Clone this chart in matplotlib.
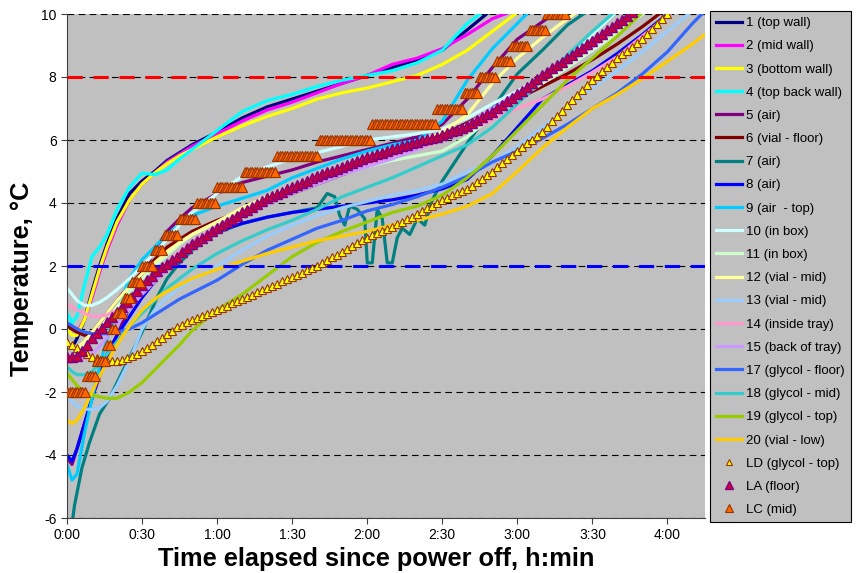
import numpy as np
import matplotlib
matplotlib.use('Agg')
import matplotlib.pyplot as plt
from matplotlib.ticker import FuncFormatter, MultipleLocator

plt.rcParams['font.family'] = ['Liberation Sans', 'DejaVu Sans']
plt.rcParams['axes.unicode_minus'] = False

# minutes since power off (common grid for the logger traces)
t_min = [0, 2, 4, 7, 10, 13, 16, 20, 25, 30, 35, 40, 45, 50, 60, 70, 80, 90, 100, 110,
         120, 130, 140, 150, 160, 170, 180, 190, 200, 210, 220, 230, 240, 250, 255]

s1 = [-0.5, -0.6, -0.3, 0.3, 1.2, 2.0, 2.7, 3.5, 4.3, 4.7, 5.0, 5.35, 5.6, 5.85, 6.25, 6.7, 7.05, 7.3, 7.55, 7.8,
      8.05, 8.3, 8.55, 8.85, 9.5, 10.15]
s2 = [0.2, 0.0, -0.1, 0.3, 1.0, 1.8, 2.5, 3.3, 4.1, 4.6, 4.95, 5.3, 5.55, 5.8, 6.2, 6.6, 6.95, 7.2, 7.5, 7.8,
      8.05, 8.4, 8.6, 8.9, 9.35, 9.85, 10.15]
s3 = [0.0, -0.2, -0.2, 0.3, 1.1, 1.9, 2.6, 3.4, 4.1, 4.6, 4.95, 5.25, 5.5, 5.7, 6.1, 6.45, 6.75, 7.0, 7.3, 7.5,
      7.65, 7.85, 8.05, 8.4, 8.85, 9.45, 10.05]
s4 = [0.5, 0.2, 0.4, 1.4, 2.3, 2.6, 3.0, 3.8, 4.5, 4.95, 4.9, 5.05, 5.4, 5.7, 6.3, 6.9, 7.25, 7.45, 7.7, 7.9,
      8.05, 8.2, 8.45, 8.85, 9.7, 10.3]
s5 = [-4.1, -4.3, -3.8, -3.0, -2.2, -1.5, -0.9, -0.2, 0.7, 1.7, 2.5, 3.1, 3.5, 3.85, 4.3, 4.65, 4.85, 5.05, 5.3, 5.5,
      5.7, 5.9, 6.1, 6.5, 7.3, 8.3, 9.2, 9.75, 10.3]
s6 = [0.1, 0.0, -0.1, -0.2, -0.1, 0.2, 0.5, 0.9, 1.4, 1.8, 2.2, 2.6, 2.85, 3.1, 3.45, 3.75, 4.0, 4.3, 4.6, 4.9,
      5.2, 5.5, 5.8, 6.15, 6.55, 6.95, 7.3, 7.7, 8.1, 8.55, 9.05, 9.6, 10.2]
s8 = [-4.0, -4.2, -3.8, -3.0, -2.2, -1.4, -0.8, -0.2, 0.4, 1.0, 1.5, 2.0, 2.4, 2.75, 3.1, 3.35, 3.55, 3.7, 3.8, 3.9,
      4.0, 4.1, 4.25, 4.45, 4.75, 5.5, 6.4, 7.3, 7.75, 8.2, 8.75, 9.35, 10.0, 10.6]
s9 = [-4.3, -4.8, -4.6, -3.3, -2.2, -1.2, -0.3, 0.6, 1.6, 2.2, 2.6, 3.0, 3.3, 3.6, 3.9, 4.15, 4.4, 4.8, 5.1, 5.4,
      5.65, 5.85, 6.0, 6.6, 7.9, 8.9, 9.7, 10.5]
s10 = [1.3, 1.1, 0.9, 0.75, 0.75, 0.85, 1.0, 1.25, 1.6, 2.0, 2.4, 2.85, 3.3, 3.7, 4.3, 4.85, 5.15, 5.4, 5.6, 5.8,
       6.0, 6.1, 6.2, 6.35, 6.7, 7.15, 7.55, 8.0, 8.65, 9.35, 10.1]
s11 = [-0.4, -0.5, -0.6, -0.5, -0.3, 0.0, 0.3, 0.7, 1.2, 1.6, 2.0, 2.35, 2.7, 3.0, 3.4, 3.8, 4.1, 4.4, 4.7, 4.95,
       5.15, 5.35, 5.5, 5.65, 6.1, 6.75, 7.3, 7.8, 8.3, 8.85, 9.4, 10.0]
s12 = [-0.5, -0.6, -0.6, -0.4, -0.1, 0.2, 0.5, 0.9, 1.35, 1.75, 2.1, 2.45, 2.75, 3.0, 3.4, 3.85, 4.2, 4.5, 4.85, 5.15,
       5.4, 5.65, 5.9, 6.25, 6.8, 7.8, 8.6, 9.25, 9.85, 10.4]
s13 = [-2.1, -2.3, -2.45, -2.55, -2.55, -2.5, -2.3, -1.8, -1.0, 0.0, 0.6, 1.0, 1.3, 1.55, 2.0, 2.5, 2.95, 3.3, 3.6, 3.85,
       4.05, 4.25, 4.4, 4.6, 5.0, 5.3, 5.8, 6.4, 7.05, 7.65, 8.2, 8.8, 9.45, 10.1]
s14 = [0.8, 0.7, 0.6, 0.5, 0.4, 0.4, 0.45, 0.6, 0.9, 1.3, 1.7, 2.1, 2.45, 2.75, 3.25, 3.7, 4.05, 4.4, 4.7, 4.95,
       5.2, 5.45, 5.7, 6.0, 6.3, 6.65, 7.0, 7.3, 7.7, 8.15, 8.65, 9.3, 9.95, 10.5]
s15 = [-0.8, -0.95, -1.0, -0.95, -0.8, -0.55, -0.25, 0.15, 0.65, 1.1, 1.5, 1.9, 2.25, 2.55, 3.1, 3.55, 3.95, 4.3, 4.6, 4.9,
       5.15, 5.4, 5.7, 6.1, 6.5, 7.0, 7.5, 8.0, 8.5, 8.95, 9.6, 10.2]
s17 = [0.2, 0.1, 0.0, -0.1, -0.15, -0.15, -0.15, -0.1, 0.0, 0.2, 0.45, 0.7, 0.95, 1.15, 1.55, 2.05, 2.5, 2.85, 3.2, 3.45,
       3.75, 3.95, 4.2, 4.5, 4.85, 5.3, 5.65, 6.05, 6.5, 7.0, 7.5, 8.1, 8.8, 9.7, 10.1]
s18 = [-1.2, -1.35, -1.45, -1.45, -1.35, -1.1, -0.8, -0.4, 0.1, 0.5, 0.9, 1.3, 1.6, 1.9, 2.4, 2.8, 3.15, 3.45, 3.8, 4.2,
       4.5, 4.8, 5.15, 5.5, 5.85, 6.4, 7.15, 7.9, 8.7, 9.45, 10.15]
s19 = [-1.4, -1.6, -1.8, -2.0, -2.1, -2.15, -2.2, -2.2, -2.0, -1.7, -1.3, -0.9, -0.5, -0.05, 0.6, 1.1, 1.7, 2.3, 2.75, 3.1,
       3.4, 3.7, 3.9, 4.25, 4.8, 5.5, 6.3, 7.1, 7.9, 8.6, 9.3, 10.05]
s20 = [-2.9, -3.0, -2.9, -2.5, -2.0, -1.5, -1.05, -0.5, 0.1, 0.6, 0.95, 1.2, 1.4, 1.6, 1.9, 2.15, 2.4, 2.6, 2.8, 2.95,
       3.1, 3.3, 3.45, 3.65, 3.9, 4.3, 5.0, 5.75, 6.4, 7.0, 7.45, 7.95, 8.5, 9.05, 9.35]

# probe 7 has its own time base (noisy stretch around 2:00)
t7 = [1.5, 3, 6, 9, 13, 17, 20, 25, 30, 36, 40, 45, 50, 55, 60, 70, 80, 90, 100, 104,
      107, 109, 111, 113, 116, 119, 120, 122, 124, 126, 128, 130, 132, 134, 137, 140, 143, 146, 150, 155,
      160, 170, 180, 190, 200, 210]
s7 = [-6.5, -5.6, -4.4, -3.6, -2.7, -2.2, -1.7, -0.9, -0.1, 1.0, 1.6, 2.1, 2.5, 2.8, 3.05, 3.35, 3.55, 3.7, 3.85, 4.3,
      4.2, 3.6, 3.3, 3.9, 3.8, 3.5, 2.1, 2.1, 3.8, 3.5, 2.1, 2.1, 2.9, 3.2, 3.0, 3.5, 3.3, 4.1, 4.7, 5.3,
      5.9, 7.0, 8.1, 8.85, 9.65, 10.2]

# logger LD and LA, one reading every 2 min
ld_step = 2
ld = [-0.40, -0.50, -0.60, -0.70, -0.80, -0.88, -0.93, -0.97, -1.00, -1.00, -1.00, -0.97, -0.92, -0.86, -0.78,
      -0.70, -0.60, -0.50, -0.38, -0.27, -0.15, -0.05, 0.05, 0.13, 0.22, 0.30, 0.36, 0.42, 0.48, 0.54,
      0.60, 0.67, 0.74, 0.81, 0.88, 0.95, 1.02, 1.09, 1.16, 1.23, 1.30, 1.37, 1.44, 1.51, 1.58,
      1.65, 1.72, 1.79, 1.86, 1.93, 2.00, 2.09, 2.18, 2.27, 2.36, 2.45, 2.54, 2.63, 2.72, 2.81,
      2.90, 2.97, 3.04, 3.11, 3.18, 3.25, 3.33, 3.41, 3.49, 3.57, 3.65, 3.74, 3.83, 3.92, 4.01,
      4.10, 4.17, 4.24, 4.31, 4.38, 4.45, 4.55, 4.66, 4.77, 4.88, 5.00, 5.13, 5.26, 5.39, 5.52,
      5.65, 5.77, 5.89, 6.01, 6.13, 6.25, 6.42, 6.59, 6.76, 6.93, 7.10, 7.26, 7.42, 7.58, 7.74,
      7.90, 8.04, 8.18, 8.32, 8.46, 8.60, 8.72, 8.84, 8.96, 9.08, 9.20, 9.36, 9.52, 9.68, 9.84, 10.00]
la = [-0.90, -0.90, -0.85, -0.70, -0.50, -0.30, -0.13, 0.04, 0.21, 0.38, 0.54, 0.70, 0.85, 1.03, 1.22,
      1.40, 1.54, 1.68, 1.83, 1.96, 2.07, 2.19, 2.30, 2.43, 2.57, 2.70, 2.80, 2.90, 3.00, 3.10,
      3.20, 3.30, 3.40, 3.50, 3.60, 3.70, 3.79, 3.88, 3.97, 4.06, 4.15, 4.22, 4.29, 4.36, 4.43,
      4.50, 4.57, 4.64, 4.71, 4.78, 4.85, 4.91, 4.97, 5.03, 5.09, 5.15, 5.21, 5.27, 5.33, 5.39,
      5.45, 5.50, 5.55, 5.60, 5.65, 5.70, 5.75, 5.80, 5.85, 5.90, 5.95, 5.99, 6.03, 6.07, 6.11,
      6.15, 6.21, 6.27, 6.33, 6.39, 6.45, 6.54, 6.63, 6.72, 6.81, 6.90, 7.01, 7.12, 7.23, 7.34,
      7.45, 7.57, 7.69, 7.81, 7.93, 8.05, 8.16, 8.27, 8.38, 8.49, 8.60, 8.71, 8.82, 8.93, 9.04,
      9.15, 9.26, 9.37, 9.48, 9.59, 9.70, 9.82, 9.94, 10.05]

# logger LC reads in 0.5 C steps: level and first/last minute of each run
lc_level = [-2.0, -1.5, -1.0, -0.5, 0.0, 0.5, 1.0, 1.5, 2.0, 2.5, 3.0, 3.5, 4.0, 4.5, 5.0, 5.5, 6.0,
            6.5, 7.0, 7.5, 8.0, 8.5, 9.0, 9.5, 10.0]
lc_start = [0, 8, 12, 16, 18, 20, 23, 26, 30, 35, 39, 45, 52, 60, 71, 84, 101, 122, 148, 159, 165, 172, 178, 185, 192]
lc_end = [7, 11, 15, 17, 19, 22, 25, 29, 34, 38, 44, 51, 59, 70, 83, 100, 121, 147, 158, 164, 171, 177, 184, 191, 199]

names = ['1 (top wall)', '2 (mid wall)', '3 (bottom wall)', '4 (top back wall)', '5 (air)',
         '6 (vial - floor)', '7 (air)', '8 (air)', '9 (air  - top)', '10 (in box)', '11 (in box)',
         '12 (vial - mid)', '13 (vial - mid)', '14 (inside tray)', '15 (back of tray)',
         '17 (glycol - floor)', '18 (glycol - mid)', '19 (glycol - top)', '20 (vial - low)']
colors = ['#000080', '#FF00FF', '#FFFF00', '#00FFFF', '#800080', '#800000', '#008080', '#0000FF',
          '#00CCFF', '#CCFFFF', '#CCFFCC', '#FFFF99', '#99CCFF', '#FF99CC', '#CC99FF', '#3366FF',
          '#33CCCC', '#99CC00', '#FFCC00']


def pad(v):
    return list(v) + [np.nan] * (len(t_min) - len(v))


fig = plt.figure(figsize=(8.56, 5.73), dpi=100)
ax = fig.add_axes([67 / 856, 1 - 518 / 573, (705 - 67) / 856, (518 - 14) / 573])
ax.set_facecolor('#C0C0C0')

series = [s1, s2, s3, s4, s5, s6, None, s8, s9, s10, s11, s12, s13, s14, s15, s17, s18, s19, s20]
handles = []
for name, col, s in zip(names, colors, series):
    if s is None:
        h, = ax.plot(t7, s7, color=col, lw=2.3, label=name)
    else:
        h, = ax.plot(t_min, pad(s), color=col, lw=2.3, label=name)
    handles.append(h)

ax.axhline(8, color='#FF0000', lw=2.2, ls=(0, (5, 3.5)), zorder=3)
ax.axhline(2, color='#0000FF', lw=2.2, ls=(0, (5, 3.5)), zorder=3)

ld_t = np.arange(len(ld)) * ld_step
la_t = np.arange(len(la)) * ld_step
h, = ax.plot(ld_t, ld, ls='none', marker='^', ms=5.5, mfc='#FFFF00', mec='#993300', mew=0.8,
             label='LD (glycol - top)', zorder=4)
handles.append(h)
h, = ax.plot(la_t, la, ls='none', marker='^', ms=7, mfc='#CC0033', mec='#800080', mew=1.0,
             label='LA (floor)', zorder=4)
handles.append(h)
lc_t, lc_v = [], []
for lev, a, b in zip(lc_level, lc_start, lc_end):
    for m in range(a, b + 1):
        lc_t.append(m)
        lc_v.append(lev)
h, = ax.plot(lc_t, lc_v, ls='none', marker='^', ms=7, mfc='#FF6600', mec='#993300', mew=0.8,
             label='LC (mid)', zorder=5)
handles.append(h)

ax.set_xlim(0, 255)
ax.set_ylim(-6, 10)
ax.xaxis.set_major_locator(MultipleLocator(30))
ax.xaxis.set_major_formatter(FuncFormatter(lambda v, p: '%d:%02d' % (int(v) // 60, int(v) % 60)))
ax.yaxis.set_major_locator(MultipleLocator(2))
ax.yaxis.grid(True, color='black', lw=0.8, ls=(0, (6, 4)))
ax.set_axisbelow(True)
for sp in ['top', 'right']:
    ax.spines[sp].set_visible(False)
ax.spines['left'].set_color('#404040')
ax.spines['bottom'].set_color('#404040')
ax.tick_params(labelsize=10, direction='out', length=4, width=0.8, color='#404040')
ax.set_xlabel('Time elapsed since power off, h:min', fontsize=18.3, fontweight='bold')
ax.xaxis.set_label_coords(0.484, -0.057, transform=ax.transAxes)
ax.xaxis.label.set_va('top')
ax.set_ylabel('Temperature, °C', fontsize=18.3, fontweight='bold')
ax.yaxis.set_label_coords(-0.0525, 0.474)

leg = fig.legend(handles=handles, loc='upper left', bbox_to_anchor=(710 / 856, 1 - 11 / 573),
                 fontsize=9.5, frameon=True, fancybox=False, edgecolor='black', facecolor='#C0C0C0',
                 framealpha=1, borderaxespad=0, handlelength=2.0, handletextpad=0.3,
                 labelspacing=0.83, borderpad=0.45, markerscale=0.75)
leg.get_frame().set_linewidth(0.8)

fig.savefig('out.png', dpi=100)
